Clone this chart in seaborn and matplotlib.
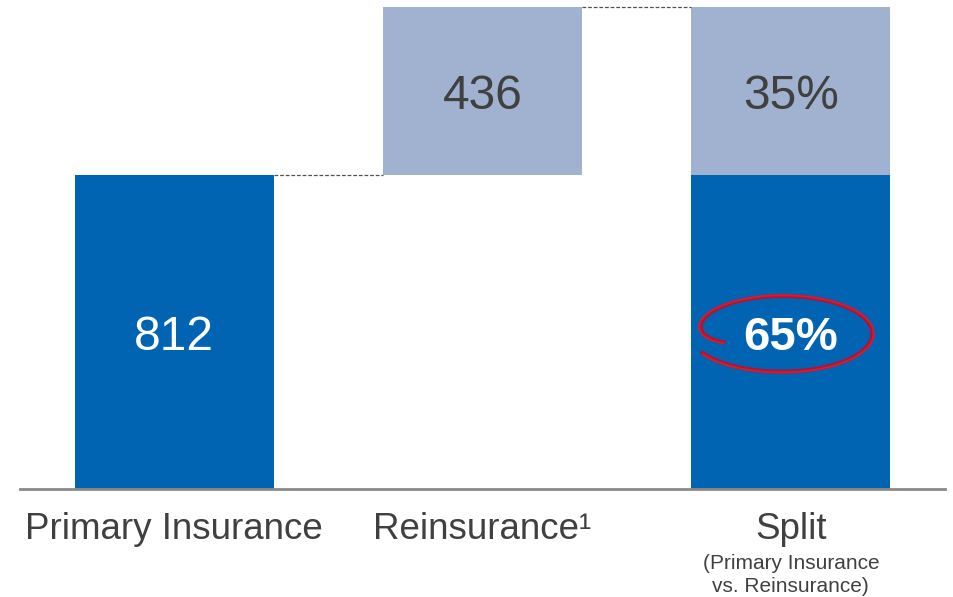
import numpy as np
import pandas as pd
import matplotlib
matplotlib.use("Agg")
import matplotlib.pyplot as plt
import seaborn as sns

# ---- data ----
categories = ["Primary Insurance", "Reinsurance", "Split"]
tick_labels = ["Primary Insurance", "Reinsurance\u00b9", "Split"]
primary_value = 812
reinsurance_value = 436
base_values = [primary_value, 0, primary_value]          # dark segment
top_values = [0, reinsurance_value, reinsurance_value]    # light segment
top_bottoms = [0, primary_value, primary_value]
total = primary_value + reinsurance_value
share_primary = round(100 * primary_value / total)
share_reins = 100 - share_primary
subtitle = "(Primary Insurance\nvs. Reinsurance)"

DARK = "#0064B3"
LIGHT = "#A0B2CF"
TEXT = "#404040"

sns.set_theme(style="white")
plt.rcParams["font.family"] = ["Liberation Sans", "DejaVu Sans"]

fig = plt.figure(figsize=(9.54, 5.97), dpi=100)
ax = fig.add_axes([20 / 954, 108 / 597, 925 / 954, 482 / 597])

df = pd.DataFrame({"category": categories, "value": base_values})
sns.barplot(data=df, x="category", y="value", hue="category",
            palette=[DARK, DARK, DARK], legend=False, width=0.645,
            saturation=1, linewidth=0, ax=ax, order=categories)

x = np.arange(len(categories))
for i in (1, 2):
    ax.bar(x[i], top_values[i], bottom=top_bottoms[i], width=0.645,
           color=LIGHT, linewidth=0)

ax.set_xlim(-0.5, 2.5)
ax.set_ylim(0, total)

# connector dashed lines
hw = 0.645 / 2
ax.plot([x[0] + hw, x[1] - hw], [primary_value, primary_value],
        ls=(0, (3, 1.5)), lw=0.9, color="#505050", clip_on=False)
ax.plot([x[1] + hw, x[2] - hw], [total, total],
        ls=(0, (3, 1.5)), lw=0.9, color="#505050", clip_on=False)

# value labels
off = -15
ax.text(x[0], primary_value / 2 + off, f"{primary_value}", ha="center", va="center",
        color="white", fontsize=34.5)
ax.text(x[1], primary_value + reinsurance_value / 2 + off, f"{reinsurance_value}",
        ha="center", va="center", color=TEXT, fontsize=34.5)
ax.text(x[2], primary_value + reinsurance_value / 2 + off, f"{share_reins}%",
        ha="center", va="center", color=TEXT, fontsize=34.5)
ax.text(x[2], primary_value / 2 + off, f"{share_primary}%", ha="center", va="center",
        color="white", fontsize=34, fontweight="bold")

# hand-drawn red ellipse
cx, cy = 1.974, 403
a, b = 0.29, 97
t = np.linspace(np.deg2rad(200), np.deg2rad(-150), 300)
r = 1.0 - 0.3 * np.exp(-(np.deg2rad(200) - t) / 0.35)
r = r * (1 + 0.05 * (t < 0) * (-t) / np.pi)
ax.plot(cx + a * r * np.cos(t), cy + b * r * np.sin(t), color="#B8102E",
        lw=3.0, solid_capstyle="round")
ax.plot(cx + a * r * 1.015 * np.cos(t + 0.03), cy + b * r * 1.02 * np.sin(t + 0.03),
        color="#C4283F", lw=1.5, alpha=0.8, solid_capstyle="round")

# axes styling
for s in ["top", "right", "left"]:
    ax.spines[s].set_visible(False)
ax.spines["bottom"].set_color("#8A8A8A")
ax.spines["bottom"].set_linewidth(2)
ax.set_yticks([])
ax.set_ylabel("")
ax.set_xlabel("")
ax.set_xticks(x)
ax.set_xticklabels(tick_labels, fontsize=26.5, color=TEXT)
ax.tick_params(axis="x", length=0, pad=16.5)

ax.text(x[2], -0.135 * total, subtitle, ha="center", va="top",
        fontsize=15, color=TEXT, linespacing=1.25, transform=ax.transData,
        clip_on=False)

fig.savefig("out.png", dpi=100)
